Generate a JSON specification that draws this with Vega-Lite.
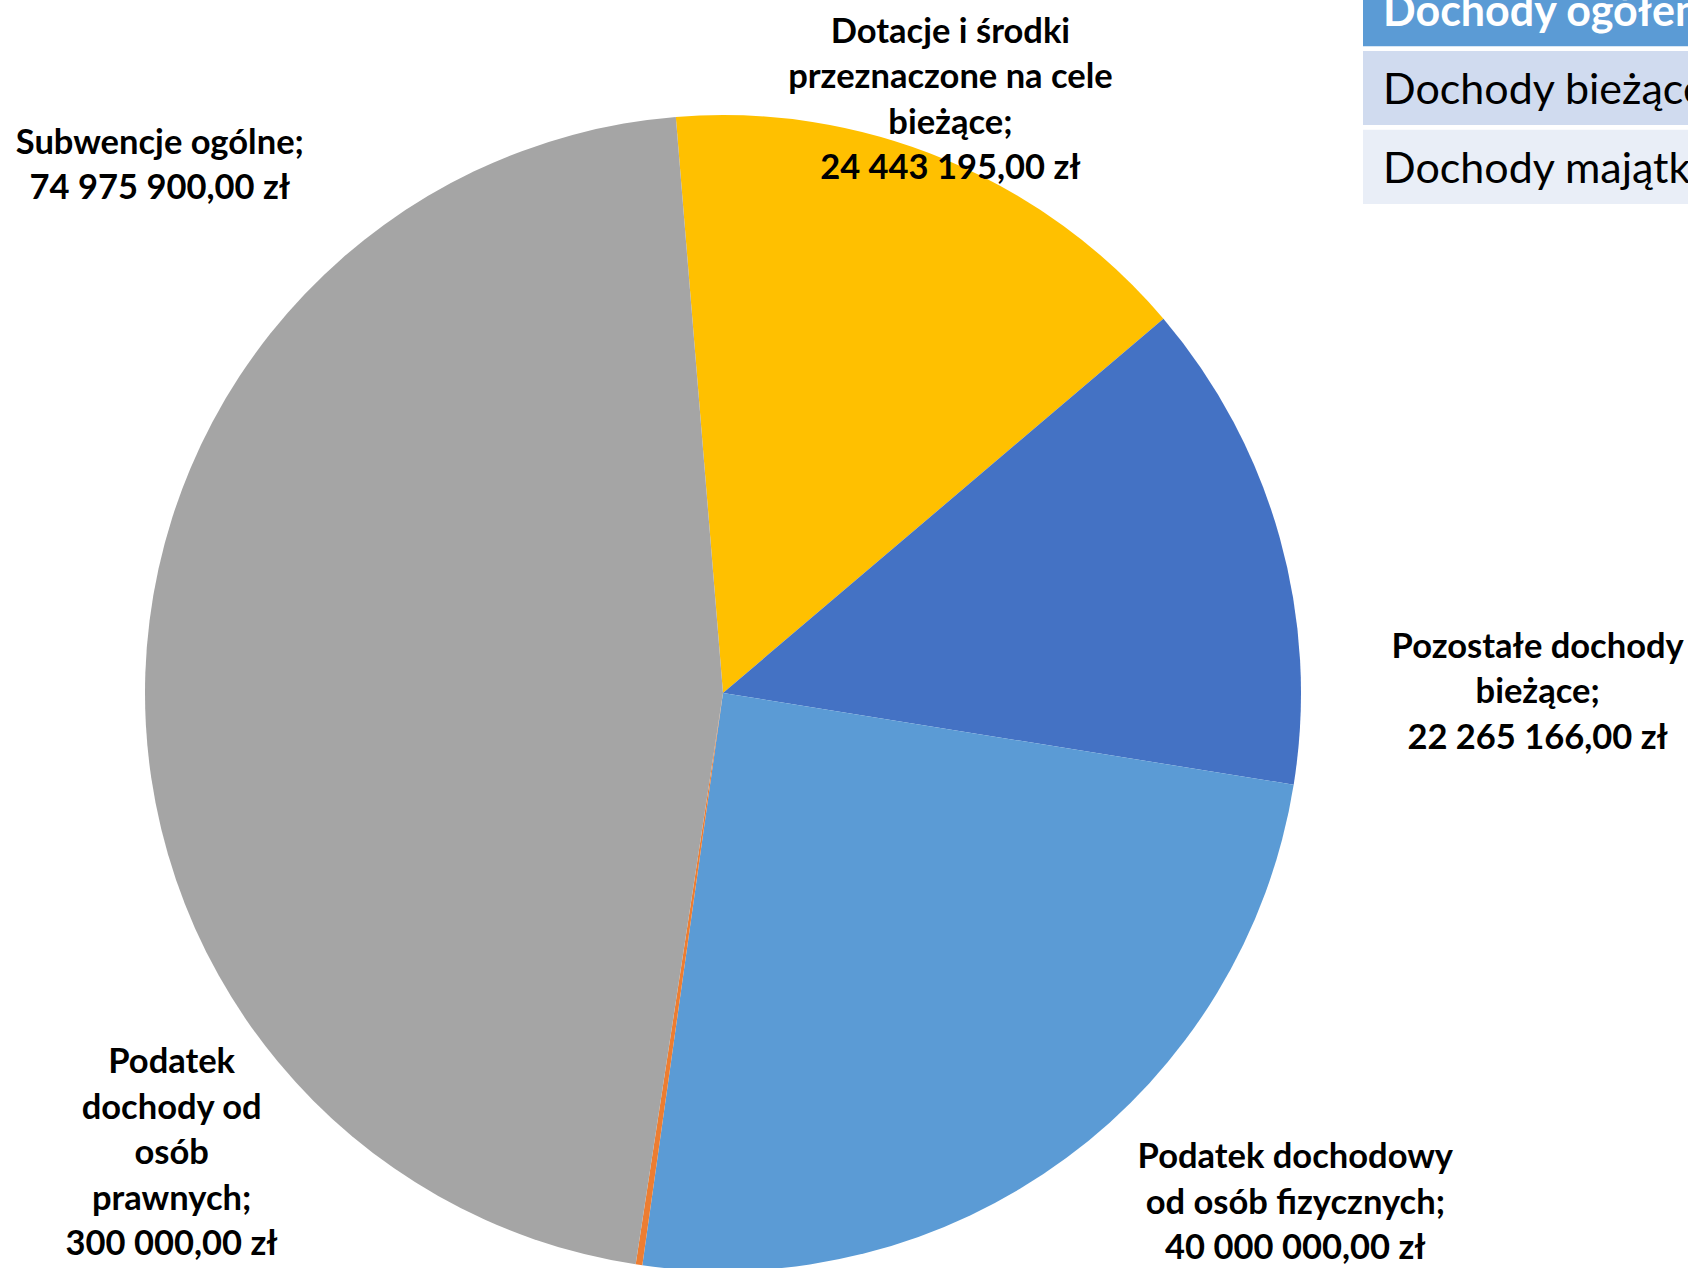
{
  "$schema": "https://vega.github.io/schema/vega-lite/v6.json",
  "padding": 0,
  "spacing": 0,
  "bounds": "flush",
  "background": "white",
  "config": {"view": {"stroke": null}},
  "resolve": {"scale": {"color": "independent"}},
  "datasets": {
    "dochody": [
      {"lp": 1, "name": "Dotacje i środki przeznaczone na cele bieżące", "value": 24443195, "label": "Dotacje i środki\nprzeznaczone na cele\nbieżące;\n24 443 195,00 zł"},
      {"lp": 2, "name": "Pozostałe dochody bieżące", "value": 22265166, "label": "Pozostałe dochody\nbieżące;\n22 265 166,00 zł"},
      {"lp": 3, "name": "Podatek dochodowy od osób fizycznych", "value": 40000000, "label": "Podatek dochodowy\nod osób fizycznych;\n40 000 000,00 zł"},
      {"lp": 4, "name": "Podatek dochody od osób prawnych", "value": 300000, "label": "Podatek\ndochody od\nosób\nprawnych;\n300 000,00 zł"},
      {"lp": 5, "name": "Subwencje ogólne", "value": 74975900, "label": "Subwencje ogólne;\n74 975 900,00 zł"}
    ],
    "tabela": [
      {"row": "Dochody ogółem"},
      {"row": "Dochody bieżące"},
      {"row": "Dochody majątkowe"}
    ]
  },
  "hconcat": [
    {
      "width": 1363,
      "height": 1268,
      "data": {"name": "dochody"},
      "transform": [
        {"stack": "value", "groupby": [], "sort": [{"field": "lp", "order": "ascending"}], "as": ["v0", "v1"]}
      ],
      "layer": [
        {
          "mark": {"type": "arc", "radius": 578, "xOffset": 41.5, "yOffset": 59, "clip": true},
          "encoding": {
            "theta": {"field": "v1", "type": "quantitative", "scale": {"zero": true, "nice": false, "range": [-0.0817, 6.2015]}},
            "theta2": {"field": "v0"},
            "color": {
              "field": "name", "type": "nominal", "legend": null,
              "scale": {
                "domain": ["Dotacje i środki przeznaczone na cele bieżące", "Pozostałe dochody bieżące", "Podatek dochodowy od osób fizycznych", "Podatek dochody od osób prawnych", "Subwencje ogólne"],
                "range": ["#FFC000", "#4472C4", "#5B9BD5", "#ED7D31", "#A5A5A5"]
              }
            }
          }
        },
        {
          "transform": [{"filter": "datum.lp === 1"}],
          "mark": {"type": "text", "radius": 578, "xOffset": 41.5, "yOffset": 59, "dx": -213, "dy": -286, "font": "Lato", "fontWeight": "bold", "fontSize": 34.5, "lineBreak": "\n", "lineHeight": 45.5, "align": "center", "baseline": "middle", "color": "#000000"},
          "encoding": {"theta": {"field": "v1", "type": "quantitative"}, "text": {"field": "label"}}
        },
        {
          "transform": [{"filter": "datum.lp === 2"}],
          "mark": {"type": "text", "radius": 578, "xOffset": 41.5, "yOffset": 59, "dx": 244, "dy": -137, "font": "Lato", "fontWeight": "bold", "fontSize": 34.5, "lineBreak": "\n", "lineHeight": 45.5, "align": "center", "baseline": "middle", "color": "#000000"},
          "encoding": {"theta": {"field": "v1", "type": "quantitative"}, "text": {"field": "label"}}
        },
        {
          "transform": [{"filter": "datum.lp === 3"}],
          "mark": {"type": "text", "radius": 578, "xOffset": 41.5, "yOffset": 59, "dx": 653, "dy": -107, "font": "Lato", "fontWeight": "bold", "fontSize": 34.5, "lineBreak": "\n", "lineHeight": 45.5, "align": "center", "baseline": "middle", "color": "#000000"},
          "encoding": {"theta": {"field": "v1", "type": "quantitative"}, "text": {"field": "label"}}
        },
        {
          "transform": [{"filter": "datum.lp === 4"}],
          "mark": {"type": "text", "radius": 578, "xOffset": 41.5, "yOffset": 59, "dx": -464, "dy": -201, "font": "Lato", "fontWeight": "bold", "fontSize": 34.5, "lineBreak": "\n", "lineHeight": 45.5, "align": "center", "baseline": "middle", "color": "#000000"},
          "encoding": {"theta": {"field": "v1", "type": "quantitative"}, "text": {"field": "label"}}
        },
        {
          "transform": [{"filter": "datum.lp === 5"}],
          "mark": {"type": "text", "radius": 578, "xOffset": 41.5, "yOffset": 59, "dx": -516, "dy": 27, "font": "Lato", "fontWeight": "bold", "fontSize": 34.5, "lineBreak": "\n", "lineHeight": 45.5, "align": "center", "baseline": "middle", "color": "#000000"},
          "encoding": {"theta": {"field": "v1", "type": "quantitative"}, "text": {"field": "label"}}
        }
      ]
    },
    {
      "width": 325,
      "height": 204,
      "data": {"name": "tabela"},
      "encoding": {
        "y": {
          "field": "row", "type": "nominal", "axis": null,
          "scale": {"domain": ["Dochody ogółem", "Dochody bieżące", "Dochody majątkowe"], "range": [-28, 204], "paddingInner": 0.06, "paddingOuter": 0}
        }
      },
      "layer": [
        {
          "mark": {"type": "rect", "clip": true},
          "encoding": {
            "color": {
              "field": "row", "type": "nominal", "legend": null,
              "scale": {"domain": ["Dochody ogółem", "Dochody bieżące", "Dochody majątkowe"], "range": ["#5B9BD5", "#D0DBEF", "#E9EEF7"]}
            }
          }
        },
        {
          "transform": [{"filter": "datum.row === 'Dochody ogółem'"}],
          "mark": {"type": "text", "clip": true, "align": "left", "baseline": "middle", "dx": -142.5, "dy": 4, "font": "Lato", "fontWeight": "bold", "fontSize": 43, "color": "#FFFFFF"},
          "encoding": {"text": {"field": "row"}}
        },
        {
          "transform": [{"filter": "datum.row !== 'Dochody ogółem'"}],
          "mark": {"type": "text", "clip": true, "align": "left", "baseline": "middle", "dx": -142.5, "dy": 3, "font": "Lato", "fontSize": 43, "color": "#000000"},
          "encoding": {"text": {"field": "row"}}
        }
      ]
    }
  ]
}
